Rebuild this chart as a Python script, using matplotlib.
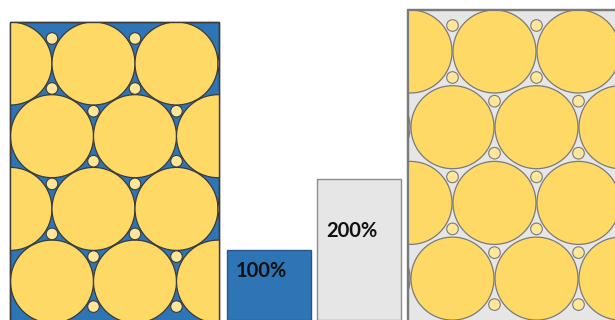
import matplotlib
matplotlib.use("Agg")
import matplotlib.pyplot as plt
import matplotlib.patches as mpatches

# bar values (percent) and labels
bar_values = [100, 200]
bar_labels = ["100%", "200%"]
bar_colors = ["#2E75B6", "#E7E6E6"]
bar_edges = ["#2F528F", "#8C8C8C"]

# packing panels: (left, top, right, bottom) in pixels, and lattice params
panels = [
    dict(box=(10, 22, 219, 330), bg="#2E75B6", edge="#3A3A3A", lw_box=1.0,
         x0=10.5, dx=83.0, y0=63.5, dy=72.7, off=25.0, R=41.5, r=5.8),
    dict(box=(408, 10, 640, 330), bg="#E7E6E6", edge="#7A7A7A", lw_box=1.6,
         x0=410.5, dx=84.0, y0=51.5, dy=75.7, off=26.0, R=41.5, r=5.8),
]
n_rows = 4

big_color = "#FFD966"
small_color = "#FFE699"

W, H = 615, 320
fig = plt.figure(figsize=(W / 100, H / 100), dpi=100)
fig.patch.set_facecolor("white")

ax = fig.add_axes([0, 0, 1, 1])
ax.set_xlim(0, W)
ax.set_ylim(H, 0)
ax.axis("off")


def draw_panel(ax, p):
    x1, y1, x2, y2 = p["box"]
    rect = mpatches.Rectangle((x1, y1), x2 - x1, y2 - y1, facecolor=p["bg"],
                              edgecolor=p["edge"], linewidth=p["lw_box"], zorder=1)
    ax.add_patch(rect)
    clip = mpatches.Rectangle((x1, y1), x2 - x1, y2 - y1, transform=ax.transData,
                              facecolor="none", edgecolor="none")
    ax.add_patch(clip)
    R, dx, dy, r = p["R"], p["dx"], p["dy"], p["r"]
    xmax = min(x2, W)
    for j in range(n_rows):
        yc = p["y0"] + j * dy
        shift = 0 if j % 2 == 0 else dx / 2
        for k in range(-1, 5):
            xc = p["x0"] + shift + k * dx
            c = mpatches.Circle((xc, yc), R, facecolor=big_color, edgecolor=p["edge"],
                                linewidth=0.9, zorder=2)
            ax.add_patch(c)
            c.set_clip_path(clip)
            # small circles in the gaps above and below this pair
            sx = xc + dx / 2
            if not (x1 + 2 * r < sx < xmax - 2 * r):
                continue
            for sy in (yc - p["off"], yc + p["off"]):
                s = mpatches.Circle((sx, sy), r, facecolor=small_color,
                                    edgecolor=p["edge"], linewidth=0.8, zorder=3)
                ax.add_patch(s)
                s.set_clip_path(clip)
    # redraw border on top
    ax.add_patch(mpatches.Rectangle((x1, y1), x2 - x1, y2 - y1, facecolor="none",
                                    edgecolor=p["edge"], linewidth=p["lw_box"], zorder=4))


for p in panels:
    draw_panel(ax, p)

# bars in percent units
ax_bar = fig.add_axes([0, 0, 1, 1])
ax_bar.patch.set_alpha(0)
ax_bar.set_xlim(0, W)
ax_bar.set_ylim(0, H / 0.705)
ax_bar.axis("off")

bar_x = [269, 359]
bars = ax_bar.bar(bar_x, bar_values, width=84, color=bar_colors,
                  edgecolor=bar_edges, linewidth=1.0)
label_y = [70, 126]
for b, lab, ly in zip(bars, bar_labels, label_y):
    ax_bar.text(b.get_x() + 9, ly, lab, ha="left", va="center", fontsize=14.5,
                fontweight="bold", family=["Lato", "DejaVu Sans"], color="#111111")

fig.savefig("out.png", dpi=100)
